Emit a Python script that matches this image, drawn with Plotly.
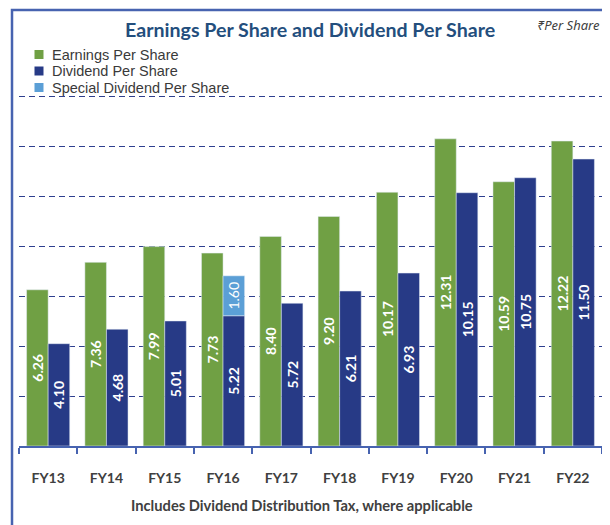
import plotly.graph_objects as go

years = ["FY13", "FY14", "FY15", "FY16", "FY17", "FY18", "FY19", "FY20", "FY21", "FY22"]
eps = [6.26, 7.36, 7.99, 7.73, 8.40, 9.20, 10.17, 12.31, 10.59, 12.22]
dps = [4.10, 4.68, 5.01, 5.22, 5.72, 6.21, 6.93, 10.15, 10.75, 11.50]
special = [None, None, None, 1.60, None, None, None, None, None, None]
series_names = ["Earnings Per Share", "Dividend Per Share", "Special Dividend Per Share"]

GREEN = "#70a044"
NAVY = "#273a86"
LIGHT = "#5b9fd6"
FRAME = "#4763b0"
GRID = "#2e3f8f"
colors = [GREEN, NAVY, LIGHT]

lbl_font = dict(color="white", size=14, family="Lato", weight="bold")

fig = go.Figure()
fig.add_trace(go.Bar(
    x=years, y=eps, name=series_names[0], marker_color=GREEN,
    offsetgroup="eps", text=[f"{v:.2f}" for v in eps], textposition="inside",
    insidetextanchor="middle", textangle=-90, textfont=lbl_font, showlegend=False,
))
fig.add_trace(go.Bar(
    x=years, y=dps, name=series_names[1], marker_color=NAVY,
    offsetgroup="div", text=[f"{v:.2f}" for v in dps], textposition="inside",
    insidetextanchor="middle", textangle=-90, textfont=lbl_font, showlegend=False,
))
fig.add_trace(go.Bar(
    x=years, y=special, base=dps, name=series_names[2], marker_color=LIGHT,
    offsetgroup="div", text=[f"{v:.2f}" if v is not None else "" for v in special],
    textposition="inside", insidetextanchor="middle", textangle=-90,
    textfont=dict(color="white", size=14, family="Lato"), showlegend=False,
))

fig.update_layout(
    width=602, height=517,
    margin=dict(l=11, r=8, t=38, b=79),
    paper_bgcolor="white", plot_bgcolor="white",
    barmode="group", bargap=0.26, bargroupgap=0,
    uniformtext=dict(minsize=14, mode="show"),
    showlegend=False,
    font=dict(family="Lato", color="#404040"),
)
fig.update_yaxes(range=[0, 16.03], dtick=2, showticklabels=False, showgrid=True,
                 gridcolor=GRID, griddash="6px,4px", gridwidth=1.2, zeroline=False,
                 showline=False)
fig.update_xaxes(showline=True, linecolor=FRAME, linewidth=2, ticks="outside",
                 tickson="boundaries", ticklen=6, tickcolor=FRAME, tickwidth=1.5,
                 tickfont=dict(family="Lato", size=14, color="#404040", weight="bold"),
                 ticklabelstandoff=18)

# legend rows
row_y = [0.97875, 0.9375, 0.89625]
for name, col, ry in zip(series_names, colors, row_y):
    fig.add_shape(type="rect", xref="paper", yref="paper",
                  xsizemode="pixel", ysizemode="pixel", xanchor=0.0343, yanchor=ry,
                  x0=-4.5, x1=4.5, y0=-4.5, y1=4.5,
                  line=dict(width=0), fillcolor=col)
    fig.add_annotation(text=name, xref="paper", yref="paper", x=0.0532, y=ry,
                       xanchor="left", yanchor="middle", showarrow=False,
                       font=dict(family="Liberation Sans", size=14.5, color="#3a3a3a"))

fig.add_annotation(text="Earnings Per Share and Dividend Per Share", xref="paper", yref="paper",
                   x=0.4986, y=1.0, xanchor="center", yanchor="middle", yshift=16.5, showarrow=False,
                   font=dict(family="Lato", size=19.6, color="#234e7d", weight="bold"))
fig.add_annotation(text="₹Per Share", xref="paper", yref="paper", x=1.0, y=1.0,
                   xanchor="right", yanchor="middle", yshift=21, showarrow=False,
                   font=dict(family="Noto Sans", size=13, color="#404040", style="italic"))
fig.add_annotation(text="Includes Dividend Distribution Tax, where applicable", xref="paper",
                   yref="paper", x=0.4854, y=0, xanchor="center", yanchor="middle", yshift=-59,
                   showarrow=False, font=dict(family="Lato", size=14.7, color="#404040", weight="bold"))
fig.add_shape(type="rect", xref="paper", yref="paper", x0=-0.012, x1=1.0103, y0=-0.25, y1=1.09,
              line=dict(color=FRAME, width=2.5), fillcolor="rgba(0,0,0,0)", layer="below")

fig.write_html("out.html")
